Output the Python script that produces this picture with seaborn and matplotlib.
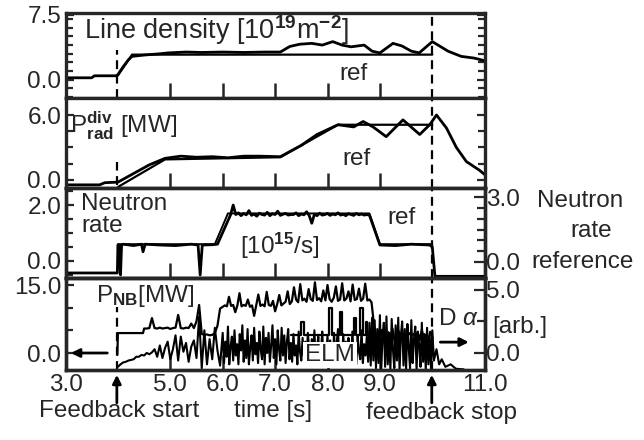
import numpy as np
import pandas as pd
import matplotlib
matplotlib.use("Agg")
import matplotlib.pyplot as plt
import seaborn as sns

# ==========================
# Data
# ==========================

# line density [1e19 m^-2]
dens_t = [3.0, 3.5, 3.55, 3.97, 4.0, 4.1, 4.2, 4.27, 4.5, 4.8, 4.96, 5.3, 5.6, 6.0, 6.4, 6.8, 7.1, 7.28,
          7.47, 7.7, 7.9, 8.1, 8.28, 8.45, 8.7, 8.85, 9.0, 9.25, 9.42, 9.6, 9.75, 10.0, 10.3, 10.55, 10.8, 11.0]
dens_v = [0.23, 0.23, 0.46, 0.46, 0.6, 1.5, 2.3, 2.7, 2.85, 3.0, 3.1, 3.2, 3.15, 3.2, 3.15, 3.2, 3.2, 3.84,
          4.1, 4.2, 4.0, 4.4, 4.0, 3.8, 4.0, 3.3, 3.1, 4.2, 3.9, 3.3, 3.1, 4.4, 3.3, 2.7, 2.5, 2.2]
dens_ref_t = [4.0, 4.27, 10.0]
dens_ref_v = [0.5, 2.9, 2.9]

# divertor radiation [MW]
prad_t = [3.0, 3.65, 3.75, 4.0, 4.3, 4.6, 4.9, 5.2, 5.5, 5.8, 6.1, 6.4, 6.7, 7.1, 7.5, 7.8, 8.2, 8.5,
          8.68, 8.87, 9.12, 9.44, 9.76, 9.95, 10.08, 10.27, 10.46, 10.65, 10.9, 11.0]
prad_v = [-0.45, -0.45, -0.25, -0.2, 0.6, 1.4, 2.0, 2.2, 2.1, 2.15, 2.05, 2.2, 2.2, 2.15, 3.2, 4.2, 5.1, 4.9,
          5.4, 4.9, 4.0, 5.55, 4.2, 5.1, 6.0, 4.8, 3.0, 1.7, 0.9, 0.5]
prad_ref_t = [4.0, 4.9, 7.1, 8.2, 10.0]
prad_ref_v = [-0.65, 1.9, 2.1, 5.1, 5.1]

# neutron rate [1e15 /s]
neut_t_a = [3.0, 3.99, 4.0, 4.03, 4.05, 4.07, 4.1, 4.3, 4.45, 4.48, 4.52, 4.8, 5.1, 5.4, 5.53, 5.57, 5.61,
            5.8, 5.9, 6.15, 6.2]
neut_v_a = [-0.43, -0.43, 0.57, 0.57, -0.5, 0.57, 0.6, 0.55, 0.6, 0.33, 0.6, 0.57, 0.55, 0.6, 0.57, -0.5, 0.57,
            0.58, 0.6, 1.65, 2.0]
neut_v_b = [1.66, 1.72, 1.62, 1.70, 1.65, 1.80, 1.63, 1.68, 1.60, 1.71,
            1.66, 1.64, 1.74, 1.62, 1.69, 1.66, 1.78, 1.63, 1.67, 1.70,
            1.64, 1.66, 1.66, 1.72, 1.62, 1.68, 1.65, 1.76, 1.63, 1.35,
            1.67, 1.62, 1.71, 1.64, 1.66, 1.70, 1.63, 1.68, 1.65, 1.72,
            1.64, 1.67, 1.62, 1.69, 1.66, 1.63, 1.70, 1.65, 1.68, 1.64, 1.66]
neut_t_c = [8.8, 9.0, 9.3, 9.6, 9.95, 10.0, 10.05, 11.0]
neut_v_c = [1.64, 0.57, 0.55, 0.6, 0.57, 0.5, -0.55, -0.55]
neut_ref_t = [4.0, 5.85, 6.1, 8.8, 9.0, 10.0]
neut_ref_v = [0.6, 0.6, 1.7, 1.7, 0.6, 0.6]

# NB power [MW]
pnb_t_a = [3.99, 4.0, 4.48, 4.5]
pnb_v_a = [-0.4, 4.4, 4.4, 5.4]
pnb_v_b = [5.4, 5.5, 7.7, 5.5, 5.4, 5.6, 5.4, 5.5, 5.6, 5.3, 5.5, 5.6, 8.4, 5.5, 5.4, 5.6, 5.5, 6.5,
           5.5, 7.0, 10.6, 4.2, 4.0, 4.1, 3.9, 4.0, 4.4, 6.0, 9.8]            # 4.55 .. 5.95
pnb_v_c = [10.2, 10.5, 10.3, 12.4, 10.4, 10.6, 9.0, 10.5, 13.2, 10.3,
           10.6, 10.4, 11.8, 10.2, 10.5, 8.2, 10.6, 12.9, 10.4, 10.7,
           10.3, 13.5, 10.6, 10.4, 11.5, 9.2, 10.8, 12.8, 10.5, 10.9,
           11.3, 13.6, 10.8,
           11.4, 14.5, 11.8, 11.2, 15.2, 11.6, 12.0, 11.3, 14.1, 11.9,
           11.5, 15.6, 11.7, 12.1, 11.4, 13.8, 11.6, 15.0, 11.9, 11.3,
           12.2, 14.7, 11.5, 11.8, 15.4, 11.6, 12.0, 13.6, 11.4, 15.1,
           11.7, 11.9, 14.2, 11.5, 12.0, 15.3, 11.6, 11.8, 11.2]            # 6.00 .. 8.84
pnb_t_d = [8.88, 8.92]
pnb_v_d = [7.0, 3.5]
pnb_v_e = [4.2, 2.8, 5.1, 3.4, 2.5, 4.6, 3.0, 5.4, 2.7, 3.9,
           4.8, 3.2, 3.8, 4.1, 3.6, 4.4, 3.9, 4.2, 3.5, 4.6,
           2.9, 5.0, 3.3, 4.0, 2.6, 4.7]                                    # 8.96 .. 9.96
pnb_t_f = [10.0, 10.02]
pnb_v_f = [3.5, -0.5]

# second NB trace with square pulses [MW]
nb2_t = [7.3, 7.5, 7.5, 7.55, 7.55, 8.03, 8.03, 8.09, 8.09, 8.23, 8.23, 8.28, 8.28, 8.5, 8.5, 8.54, 8.54,
         8.62, 8.62, 8.67, 8.67, 8.73, 8.73, 8.76, 8.76, 8.86]
nb2_v = [4.0, 4.0, 6.9, 6.9, 4.0, 4.0, 9.9, 9.9, 4.0, 4.0, 9.1, 9.1, 4.0, 4.0, 7.7, 7.7, 4.0,
         4.0, 9.9, 9.9, 4.0, 4.0, 6.9, 6.9, 4.0, 4.0]

# D-alpha (ELM) [arb.]
da_v_a = [-1.1, -0.9, -0.75, -0.7, -0.6, -0.55, -0.5, -0.3, -0.3, -0.15,
          -0.2, 0.0, -0.1, 0.05, 0.3, -0.3, 0.6, -0.4, 0.4, 0.9,
          -0.5, 0.3, 1.4, -0.6, 1.3, 0.1, 0.8, -0.7, 0.5, 1.0,
          -0.4, 2.9, -1.2, 1.8, -0.9, 1.1, -0.5, 2.0, 0.2, -1.0]             # 4.00 .. 5.95
da_v_b = [1.6, -0.8, 0.9, -0.3, 2.1, -0.9, 0.5, 1.3, -0.6, 1.8,
          -0.2, 0.7, -0.9, 1.5, 0.2, 2.2, -0.7, 1.0, -0.4, 1.9,
          -0.9, 0.4, 1.4, -0.6, 2.0, -0.1, 0.8, -0.8, 1.7, 0.3,
          -0.5, 2.1, -0.9, 1.2, 0.0, 1.6, -0.7, 0.6, 2.2, -0.4,
          1.1, -0.9, 1.8, 0.3, -0.6, 2.0, -0.2, 1.4, -0.8, 0.9,
          1.9, -0.5,
          0.8, -0.7, 1.5, -0.2, 0.6, -0.9, 1.7, 0.1, -0.6, 1.2,
          -0.3, 0.9, -0.8, 1.6, 0.4, -0.9, 1.1, -0.2, 1.8, -0.7,
          0.5, 1.3, -0.6, 0.2, 1.7, -0.9, 0.7, -0.3, 1.4, -0.8,
          1.0, 0.0, -0.9, 1.6, -0.4, 0.8, 1.9, -0.7, 0.3, -0.9,
          1.5, -0.1, 0.9, -0.8, 1.2, 0.4, -0.6, 1.7, -0.3, 0.6,
          -0.9, 1.4, 0.1, -0.5, 1.8, -0.8, 0.7, -0.2, 1.3, -0.7,
          2.4, -1.0, 2.8, -0.6,
          2.6, -1.2, 1.9, -0.8, 3.0, -1.4, 1.2, 2.4, -1.1, 2.9,
          -0.9, 1.6, -1.3, 2.7, 0.2, -1.2, 2.2, -0.6, 2.8, -1.4,
          1.4, 2.5, -1.0, 1.9, -1.3, 2.3, 0.4, -1.2, 2.6, -0.8,
          1.1, 2.1, -1.4, 1.7, 0.6, -1.1, 2.4, -0.7, 1.5, -1.3,
          2.0, -0.9, 1.3, -1.2, 1.8]                                        # 6.000 .. 10.000
da_t_c = [10.03, 10.08, 10.13, 10.18, 10.25, 10.35, 10.45, 10.6]
da_v_c = [-0.6, 0.3, -0.9, -0.5, -1.1, -0.9, -1.25, -1.3]

x_ticks = [3, 5, 6, 7, 8, 9, 11]
x_ticklabels = ["3.0", "5.0", "6.0", "7.0", "8.0", "9.0", "11.0"]


def series(parts):
    t = np.concatenate([np.asarray(p[0], float) for p in parts])
    v = np.concatenate([np.asarray(p[1], float) for p in parts])
    return pd.DataFrame({"t": t, "v": v})


def even(t0, t1, vals):
    return (np.linspace(t0, t1, len(vals)), vals)


df_dens = series([(dens_t, dens_v)])
df_dens_ref = series([(dens_ref_t, dens_ref_v)])
df_prad = series([(prad_t, prad_v)])
df_prad_ref = series([(prad_ref_t, prad_ref_v)])
df_neut = series([(neut_t_a, neut_v_a), even(6.25, 8.75, neut_v_b), (neut_t_c, neut_v_c)])
df_neut_ref = series([(neut_ref_t, neut_ref_v)])
df_pnb = series([(pnb_t_a, pnb_v_a), even(4.55, 5.95, pnb_v_b), even(6.0, 8.84, pnb_v_c),
                 (pnb_t_d, pnb_v_d), even(8.96, 9.96, pnb_v_e), (pnb_t_f, pnb_v_f)])
df_nb2 = series([(nb2_t, nb2_v)])
df_da = series([even(4.0, 5.95, da_v_a), even(6.0, 10.0, da_v_b), (da_t_c, da_v_c)])

# ==========================
# Style
# ==========================
sns.set_style("ticks")
plt.rcParams["font.family"] = ["Liberation Sans", "DejaVu Sans"]
plt.rcParams["mathtext.fontset"] = "custom"
plt.rcParams["mathtext.rm"] = "Liberation Sans"
plt.rcParams["mathtext.it"] = "Liberation Sans:italic"
plt.rcParams["mathtext.bf"] = "Liberation Sans:bold"
plt.rcParams["axes.linewidth"] = 2.4
FS = 17.5

W, H = 644, 440


def px(x, y):
    return x / W, 1 - y / H


fig, axes = plt.subplots(4, 1, figsize=(6.44, 4.40), dpi=100, sharex=True,
                         gridspec_kw=dict(hspace=0, height_ratios=[85, 90, 90, 92]))
fig.subplots_adjust(left=65.5 / W, right=484.7 / W, top=1 - 13 / H, bottom=1 - 370 / H)
ax1, ax2, ax3, ax4 = axes


def trace(df, ax, lw=2.0):
    sns.lineplot(data=df, x="t", y="v", ax=ax, color="black", lw=lw,
                 estimator=None, sort=False, legend=False)


trace(df_dens, ax1)
trace(df_dens_ref, ax1, lw=1.6)
trace(df_prad, ax2)
trace(df_prad_ref, ax2, lw=1.6)
trace(df_neut, ax3)
trace(df_neut_ref, ax3, lw=1.4)
trace(df_pnb, ax4, lw=1.6)
trace(df_nb2, ax4, lw=1.6)
ax4r = ax4.twinx()
trace(df_da, ax4r, lw=1.5)
ax3r = ax3.twinx()

ax1.set_ylim(-2.1, 7.7)
ax2.set_ylim(-0.74, 7.57)
ax3.set_ylim(-0.61, 2.61)
ax3r.set_ylim(-0.74, 3.42)
ax4.set_ylim(-3.75, 16.55)
ax4r.set_ylim(-1.35, 5.95)
ax4.set_xlim(3.0, 11.0)

left_ticks = {ax1: ([0, 7.5], ["0.0", "7.5"], np.arange(-2, 8, 1.0)),
              ax2: ([0, 6], ["0.0", "6.0"], np.arange(0, 7.5, 1.5)),
              ax3: ([0, 2], ["0.0", "2.0"], np.arange(-0.5, 2.6, 0.5)),
              ax4: ([0, 15], ["0.0", "15.0"], np.arange(0, 16, 5.0))}

for ax, (tk, lb, mn) in left_ticks.items():
    ax.set_xlabel("")
    ax.set_ylabel("")
    ax.set_yticks(tk)
    ax.set_yticklabels(lb)
    ax.set_yticks(mn, minor=True)
    ax.tick_params(axis="y", which="major", direction="in", length=6, width=1.6,
                   labelsize=FS, pad=3, right=(ax in (ax1, ax2)))
    ax.tick_params(axis="y", which="minor", direction="in", length=5, width=1.6,
                   right=(ax in (ax1, ax2)))
    ax.set_xticks(x_ticks)
    ax.tick_params(axis="x", which="major", direction="in", length=11, width=1.8,
                   labelsize=FS, pad=3)
    ax.axvline(10.0, color="black", ls=(0, (4, 2.5)), lw=1.6)

for ax, tk, lb, mn in [(ax3r, [0, 3], ["0.0", "3.0"], np.arange(0, 3.5, 0.5)),
                       (ax4r, [0, 5], ["0.0", "5.0"], [0, 2.5, 5])]:
    ax.set_ylabel("")
    ax.set_yticks(tk)
    ax.set_yticklabels(lb)
    ax.set_yticks(mn, minor=True)
    ax.tick_params(axis="y", which="major", direction="in", length=8, width=1.6,
                   labelsize=FS, pad=1)
    ax.tick_params(axis="y", which="minor", direction="in", length=6, width=1.6)

ax4.set_xticklabels(x_ticklabels)

# dashed "feedback start" marks
ax1.axvline(3.98, ymax=0.56, color="black", ls=(0, (4, 2.5)), lw=1.6)
ax2.axvline(3.98, ymin=0.03, ymax=0.29, color="black", ls=(0, (4, 2.5)), lw=1.6)
ax4.axvline(3.98, ymax=0.68, color="black", ls=(0, (4, 2.5)), lw=1.6)

# panel texts
ax1.text(0.043, 0.80, "Line density [10$^{\\mathbf{19}}$m$^{\\mathbf{-2}}$]", transform=ax1.transAxes,
         fontsize=19.5, va="center", ha="left")
ax1.text(8.49, 0.7, "ref", fontsize=FS, ha="center", va="center")
ax2.text(0.01, 0.69, "P$^{\\mathbf{div}}_{\\mathbf{rad}}$ [MW]", transform=ax2.transAxes,
         fontsize=FS, va="center", ha="left")
ax2.text(8.56, 1.94, "ref", fontsize=FS, ha="center", va="center")
ax3.text(0.038, 0.94, "Neutron\nrate", transform=ax3.transAxes, fontsize=FS,
         va="top", ha="left", linespacing=0.95)
ax3.text(0.416, 0.355, "[10$^{\\mathbf{15}}$/s]", transform=ax3.transAxes, fontsize=FS,
         va="center", ha="left")
ax3.text(9.42, 1.54, "ref", fontsize=FS, ha="center", va="center")
ax4.text(0.072, 0.80, "P$_{\\mathbf{NB}}$[MW]", transform=ax4.transAxes, fontsize=FS,
         va="center", ha="left")
ax4r.text(0.572, 0.16, "ELM", transform=ax4r.transAxes, fontsize=FS, va="center", ha="left",
          zorder=10, bbox=dict(facecolor="white", edgecolor="none", pad=1.5))
ax4.text(0.889, 0.55, "D $\\alpha$", transform=ax4.transAxes, fontsize=FS, va="center", ha="left")

arrow = dict(arrowstyle="-|>,head_length=0.5,head_width=0.25", lw=2.0, color="black")
ax4.annotate("", xy=(3.05, 0.0), xytext=(3.85, 0.0), arrowprops=arrow)
ax4.annotate("", xy=(10.75, 2.4), xytext=(10.1, 2.4), arrowprops=arrow)
ax4.annotate("", xy=(3.98, -4.2), xytext=(3.98, -11.6), arrowprops=arrow, annotation_clip=False)
ax4.annotate("", xy=(9.99, -4.2), xytext=(9.99, -11.6), arrowprops=arrow, annotation_clip=False)

# labels outside the axes
fig.text(*px(119, 411), "Feedback start", fontsize=FS, ha="center", va="center")
fig.text(*px(273, 411), "time [s]", fontsize=FS, ha="center", va="center")
fig.text(*px(441, 413), "feedback stop", fontsize=FS, ha="center", va="center")
fig.text(*px(537, 201), "Neutron", fontsize=FS, ha="left", va="center")
fig.text(*px(570, 231), "rate", fontsize=FS, ha="left", va="center")
fig.text(*px(531, 262), "reference", fontsize=FS, ha="left", va="center")
fig.text(*px(492, 327), "[arb.]", fontsize=FS, ha="left", va="center")

fig.savefig("out.png", dpi=100)
